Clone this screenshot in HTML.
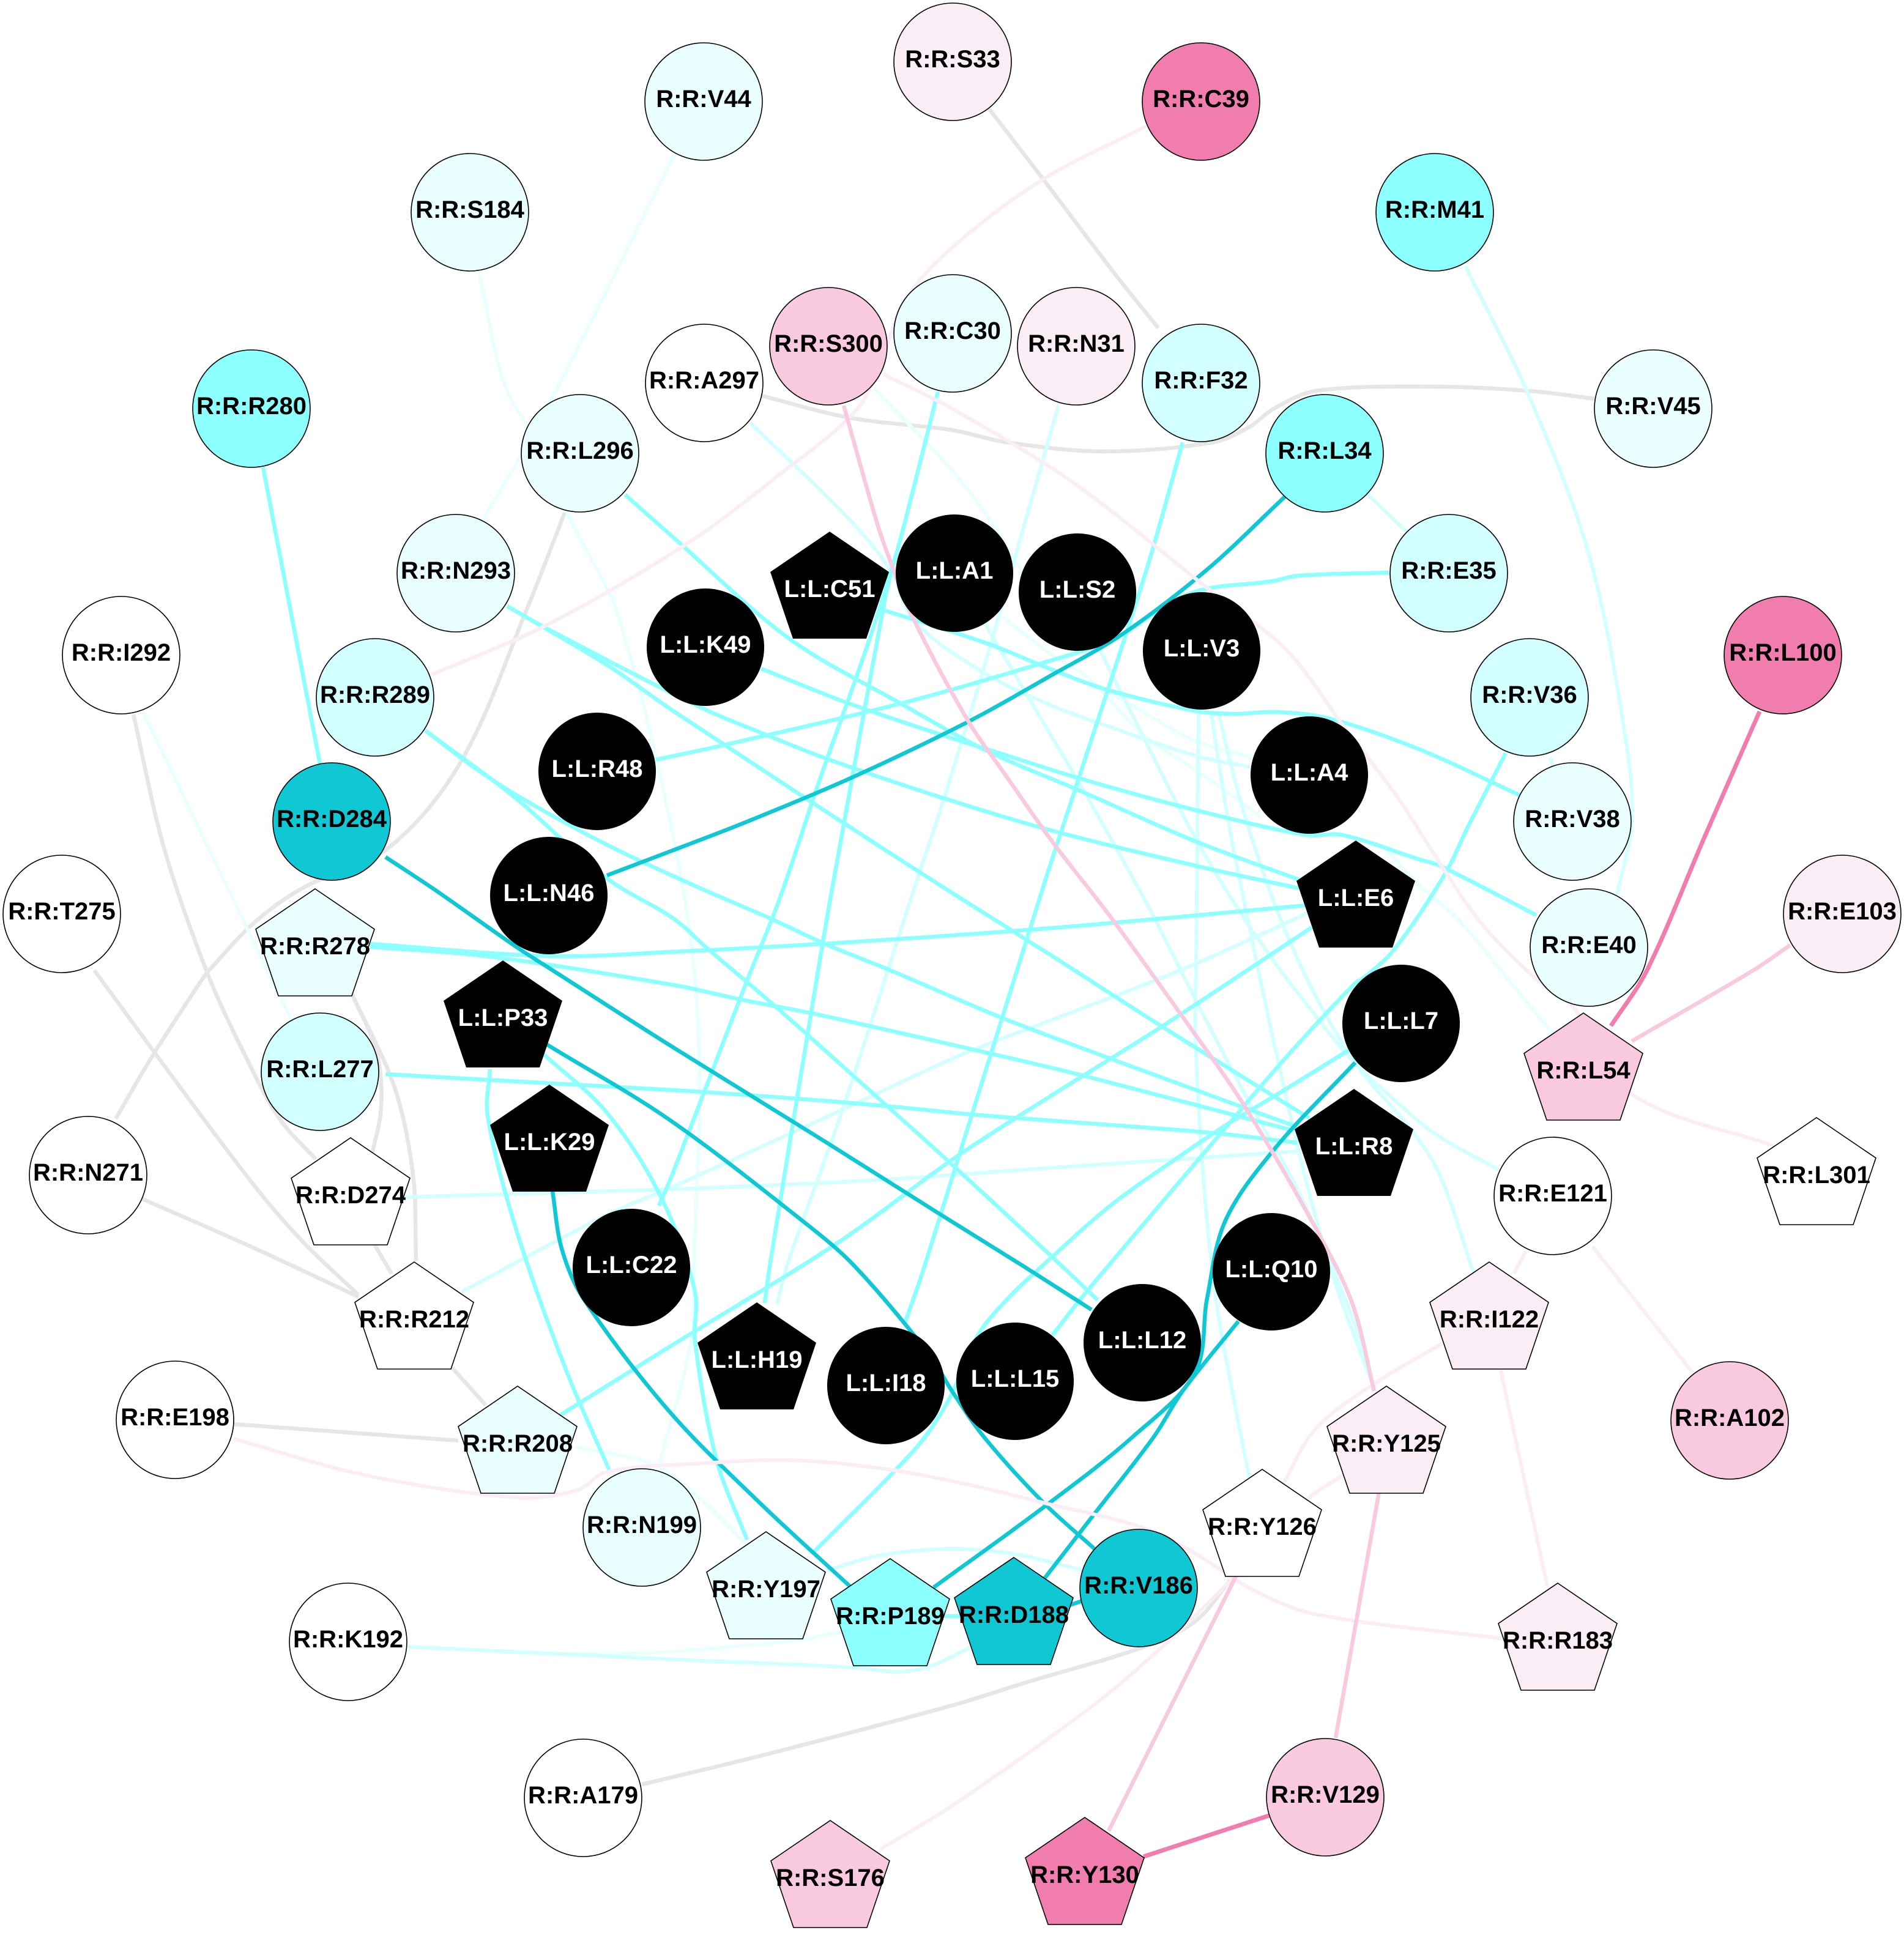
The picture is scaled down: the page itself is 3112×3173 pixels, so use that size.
<!DOCTYPE html>
<html>
<head>
<meta charset="utf-8">
<style>
html,body{margin:0;padding:0;background:#fff;width:3112px;height:3173px;overflow:hidden}
svg{display:block}
text{font-family:"Liberation Sans",Arial,sans-serif;font-weight:bold;font-size:40px;text-anchor:middle}
polyline,path{fill:none;stroke-linejoin:round;stroke-linecap:butt}
.n ellipse,.n polygon{stroke:#000;stroke-width:1.6}
</style>
</head>
<body>
<svg width="3112" height="3173" viewBox="0 0 3112 3173" xmlns="http://www.w3.org/2000/svg">
<rect width="3112" height="3173" fill="#fff"/>
<g stroke="#e6e6e6" stroke-width="6.5">
<polyline points="1616,177 1705,293 1824,450 1893,536"/>
<polyline points="1245,647 1389,683 1556,703 1645,723 1804,738 1983,723 2042,698 2082,668 2151,639 2340,632 2499,639 2608,652"/>
<polyline points="923,838 863,991 754,1244 635,1386 496,1451 417,1507 342,1586 327,1606 248,1728 189,1829"/>
<polyline points="218,1168 268,1386 337,1586 397,1718 457,1829 516,1895"/>
<polyline points="154,1586 258,1728 417,1940 496,2031 586,2117"/>
<polyline points="233,1960 417,2041 586,2120"/>
<polyline points="576,1626 645,1778 675,1920 680,2062"/>
<polyline points="576,1626 615,1718 623,1809 605,1900"/>
<polyline points="610,2031 640,2082"/>
<polyline points="739,2236 794,2297"/>
<polyline points="382,2328 749,2355"/>
<polyline points="1049,2917 1240,2871 1556,2788 1678,2750 1867,2693 1954,2650 2011,2583"/>
</g>
<g stroke="#e9ffff" stroke-width="6">
<polyline points="1102,253 883,688 789,850"/>
<polyline points="784,450 824,627 875,720 930,845 1012,1012 1116,1450 1143,1727 1134,2070 1130,2190 1077,2396"/>
<polyline points="233,1163 437,1586 476,1667"/>
<polyline points="1429,635 1556,769 1618,850 1690,960 1799,1065"/>
<polyline points="1638,1008 1720,1071 1779,1108 1870,1203 1953,1258 2064,1337"/>
<polyline points="2262,1383 2310,1438 2385,1505 2464,1600 2539,1691"/>
<polyline points="667,2692 992,2704 1293,2683 1374,2668"/>
<polyline points="941,2365 1072,2396 1151,2456 1226,2532"/>
<polyline points="1700,1085 1819,1136 1953,1211 2048,1239"/>
</g>
<g stroke="#d2ffff" stroke-width="6">
<polyline points="2395,435 2499,647 2598,910 2658,1214 2667,1345 2643,1462"/>
<polyline points="2236,809 2300,870"/>
<polyline points="1730,663 1665,890 1606,1099 1543,1305 1495,1450 1377,1814 1286,2070 1270,2132"/>
<polyline points="1226,691 1389,850 1456,933 1495,1016 1614,1103 1720,1154 1799,1183 1953,1235 2044,1254"/>
<polyline points="754,2112 992,1986 1100,1940 1377,1814 1574,1723 1720,1667 1927,1587 2139,1492"/>
<polyline points="660,1957 1100,1944 1416,1930 1720,1909 2120,1882"/>
<polyline points="1799,1065 1870,1207 1953,1369 2048,1523 2156,1668 2219,1743 2270,1790 2345,1853 2449,1912"/>
<polyline points="1991,1163 2025,1300 2076,1458 2140,1608 2219,1743 2306,1846 2353,1920 2409,2082"/>
<polyline points="1610,1020 1720,1206 1779,1306 1878,1484 1958,1642 2045,1808 2108,1920 2160,2030 2220,2180 2246,2270"/>
<polyline points="1979,1163 2008,1345 2041,1510 2080,1695 2132,1920 2180,2090 2246,2270"/>
<polyline points="1959,1163 1955,1570 1954,1698 1966,1915 1983,2092 2000,2200 2042,2416"/>
<polyline points="1351,2567 1437,2543 1552,2532 1655,2540 1770,2567"/>
<polyline points="667,2692 1150,2715 1322,2722 1408,2727 1471,2733 1523,2723 1586,2693"/>
<polyline points="2534,1239 2539,1254"/>
</g>
<g stroke="#8cffff" stroke-width="6.5">
<polyline points="430,764 523,1249"/>
<polyline points="1533,640 1480,850 1458,929 1416,1060 1340,1274 1274,1470 1219,1608 1100,1917 1077,1971"/>
<polyline points="1460,918 1444,992 1357,1470 1325,1660 1258,2070 1250,2130"/>
<polyline points="1933,723 1874,931 1759,1285 1705,1450 1511,2070 1479,2163"/>
<polyline points="1072,1242 1183,1218 1472,1150 1720,1079 1819,1045 1945,970 2080,950 2122,941 2270,936"/>
<polyline points="1440,996 1614,1052 1720,1095 1811,1128 1953,1162 2016,1167 2087,1164 2174,1175 2320,1225 2484,1300"/>
<polyline points="1244,1093 1385,1149 1535,1200 1630,1230 1763,1272 1953,1324 2135,1365 2194,1365 2320,1405 2353,1415 2511,1496"/>
<polyline points="1022,809 1100,878 1290,1044 1472,1150 1614,1228 1759,1290 1953,1375 2123,1438"/>
<polyline points="829,991 893,1027 1140,1154 1254,1202 1353,1241 1543,1305 1720,1358 1953,1415 2123,1452"/>
<polyline points="829,991 992,1087 1100,1162 1329,1313 1541,1450 1720,1563 1899,1678 2140,1828"/>
<polyline points="695,1194 774,1254 853,1305 992,1381 1140,1450 1258,1501 1353,1545 1450,1584 1638,1664 1816,1731 2026,1808 2120,1842"/>
<polyline points="695,1194 843,1305 992,1436 1100,1501 1159,1553 1266,1644 1452,1810 1553,1901 1720,2055 1794,2125"/>
<polyline points="605,1548 794,1563 1100,1610 1211,1634 1325,1656 1420,1677 1622,1723 1773,1759 2113,1848"/>
<polyline points="605,1543 900,1563 1100,1556 1345,1543 1720,1517 2135,1480"/>
<polyline points="630,1756 1100,1782 1302,1796 1448,1808 1590,1822 1720,1832 1982,1852 2120,1868"/>
<polyline points="913,2315 1092,2203 1370,2031 1563,1891 1720,1790 1899,1678 2144,1516"/>
<polyline points="2461,1231 2400,1350 2361,1430 2278,1553 2227,1600 2215,1607 2105,1725 2006,1840 1769,2120 1720,2183"/>
<polyline points="2204,1717 2081,1793 2006,1838 1927,1891 1816,1970 1717,2057 1650,2120 1600,2180 1553,2284 1511,2350 1460,2407 1330,2537"/>
<polyline points="801,1748 797,1824 844,2011 923,2234 997,2406"/>
<polyline points="888,1723 992,1819 1082,1960 1136,2112 1136,2193 1171,2386 1221,2517"/>
<polyline points="1540,2642 1570,2642"/>
</g>
<g stroke="#10c8d4" stroke-width="6.5">
<polyline points="2100,812 1973,931 1834,1037 1720,1103 1586,1178 1397,1269 1219,1344 1100,1390 992,1431"/>
<polyline points="630,1401 710,1454 844,1548 903,1586 1092,1707 1353,1869 1535,1984 1673,2070 1784,2141"/>
<polyline points="893,1707 1092,1829 1317,2000 1397,2070 1518,2213 1556,2274 1609,2350 1705,2456 1789,2532"/>
<polyline points="903,1947 918,2041 953,2122 1092,2305 1241,2456 1389,2593"/>
<polyline points="2215,1737 2085,1876 2003,1995 1973,2122 1953,2244 1850,2350 1707,2463 1526,2595"/>
<polyline points="2024,2160 1933,2274 1885,2350 1787,2477 1705,2583"/>
<polyline points="1745,2625 1775,2615"/>
</g>
<g stroke="#fbedf5" stroke-width="6">
<polyline points="1872,207 1705,293 1556,405 1480,490 1440,590 1400,670 1270,779 1121,890 893,1022 705,1103"/>
<polyline points="1444,612 1556,668 1754,789 1973,961 2102,1062 2201,1194 2282,1300 2361,1423 2424,1513 2515,1604 2570,1644 2663,1786 2901,1874"/>
<polyline points="2603,2038 2767,2244"/>
<polyline points="2494,2046 2474,2082"/>
<polyline points="2452,2236 2529,2593"/>
<polyline points="2358,2196 2251,2259 2151,2335 2097,2426"/>
<polyline points="2196,2411 2137,2451 2012,2583 1903,2689 1784,2790 1556,2952 1439,3023"/>
<polyline points="382,2352 595,2411 844,2448 943,2436 992,2406 1150,2392 1293,2387 1437,2400 1556,2421 1707,2457 1867,2497 1954,2540 2050,2600 2151,2639 2459,2679"/>
</g>
<g stroke="#f9c9df" stroke-width="6.5">
<polyline points="1379,663 1432,850 1458,925 1495,1016 1582,1178 1642,1265 1720,1376 1816,1500 1927,1654 2034,1808 2156,2018 2211,2133 2246,2274"/>
<polyline points="2667,1702 2866,1586 2926,1545"/>
<polyline points="2254,2439 2183,2841"/>
<polyline points="2022,2573 1812,2993"/>
</g>
<g stroke="#f17daf" stroke-width="7">
<polyline points="2876,1163 2787,1366 2692,1586 2633,1677"/>
<polyline points="1869,3035 2074,2968"/>
</g>

<g class="n">
<ellipse cx="1150" cy="166" rx="96" ry="96" fill="#e9ffff"/><text x="1150" y="175">R:R:V44</text>
<ellipse cx="768" cy="347" rx="96" ry="96" fill="#e9ffff"/><text x="768" y="356">R:R:S184</text>
<ellipse cx="411" cy="668" rx="96" ry="96" fill="#8cffff"/><text x="411" y="677">R:R:R280</text>
<ellipse cx="948" cy="741" rx="96" ry="96" fill="#e9ffff"/><text x="948" y="750">R:R:L296</text>
<ellipse cx="1151" cy="626" rx="96" ry="96" fill="#ffffff"/><text x="1151" y="635">R:R:A297</text>
<ellipse cx="1354" cy="566" rx="96" ry="96" fill="#f9c9df"/><text x="1354" y="575">R:R:S300</text>
<ellipse cx="745" cy="937" rx="96" ry="96" fill="#e9ffff"/><text x="745" y="946">R:R:N293</text>
<ellipse cx="198" cy="1071" rx="96" ry="96" fill="#ffffff"/><text x="198" y="1080">R:R:I292</text>
<ellipse cx="613" cy="1140" rx="96" ry="96" fill="#d2ffff"/><text x="613" y="1149">R:R:R289</text>
<ellipse cx="542" cy="1343" rx="96" ry="96" fill="#10c8d4"/><text x="542" y="1352">R:R:D284</text>
<ellipse cx="101" cy="1494" rx="96" ry="96" fill="#ffffff"/><text x="101" y="1503">R:R:T275</text>
<ellipse cx="1557" cy="545" rx="96" ry="96" fill="#e9ffff"/><text x="1557" y="554">R:R:C30</text>
<ellipse cx="1557" cy="101" rx="96" ry="96" fill="#fbedf5"/><text x="1557" y="110">R:R:S33</text>
<ellipse cx="1963" cy="166" rx="96" ry="96" fill="#f17daf"/><text x="1963" y="175">R:R:C39</text>
<ellipse cx="2345" cy="347" rx="96" ry="96" fill="#8cffff"/><text x="2345" y="356">R:R:M41</text>
<ellipse cx="1759" cy="566" rx="96" ry="96" fill="#fbedf5"/><text x="1759" y="575">R:R:N31</text>
<ellipse cx="1963" cy="626" rx="96" ry="96" fill="#d2ffff"/><text x="1963" y="635">R:R:F32</text>
<ellipse cx="2702" cy="668" rx="96" ry="96" fill="#e9ffff"/><text x="2702" y="677">R:R:V45</text>
<ellipse cx="2165" cy="741" rx="96" ry="96" fill="#8cffff"/><text x="2165" y="750">R:R:L34</text>
<ellipse cx="2368" cy="937" rx="96" ry="96" fill="#d2ffff"/><text x="2368" y="946">R:R:E35</text>
<ellipse cx="2500" cy="1140" rx="96" ry="96" fill="#d2ffff"/><text x="2500" y="1149">R:R:V36</text>
<ellipse cx="2914" cy="1071" rx="96" ry="96" fill="#f17daf"/><text x="2914" y="1080">R:R:L100</text>
<ellipse cx="2570" cy="1343" rx="96" ry="96" fill="#e9ffff"/><text x="2570" y="1352">R:R:V38</text>
<ellipse cx="2597" cy="1549" rx="96" ry="96" fill="#e9ffff"/><text x="2597" y="1558">R:R:E40</text>
<ellipse cx="3011" cy="1494" rx="96" ry="96" fill="#fbedf5"/><text x="3011" y="1503">R:R:E103</text>
<ellipse cx="523" cy="1752" rx="96" ry="96" fill="#d2ffff"/><text x="523" y="1761">R:R:L277</text>
<ellipse cx="144" cy="1921" rx="96" ry="96" fill="#ffffff"/><text x="144" y="1930">R:R:N271</text>
<ellipse cx="286" cy="2321" rx="96" ry="96" fill="#ffffff"/><text x="286" y="2330">R:R:E198</text>
<ellipse cx="1049" cy="2497" rx="96" ry="96" fill="#e9ffff"/><text x="1049" y="2506">R:R:N199</text>
<ellipse cx="569" cy="2684" rx="96" ry="96" fill="#ffffff"/><text x="569" y="2693">R:R:K192</text>
<ellipse cx="953" cy="2939" rx="96" ry="96" fill="#ffffff"/><text x="953" y="2948">R:R:A179</text>
<ellipse cx="2538" cy="1955" rx="96" ry="96" fill="#ffffff"/><text x="2538" y="1964">R:R:E121</text>
<ellipse cx="2827" cy="2322" rx="96" ry="96" fill="#f9c9df"/><text x="2827" y="2331">R:R:A102</text>
<ellipse cx="1861" cy="2596" rx="96" ry="96" fill="#10c8d4"/><text x="1861" y="2605">R:R:V186</text>
<ellipse cx="2166" cy="2938" rx="96" ry="96" fill="#f9c9df"/><text x="2166" y="2947">R:R:V129</text>

<polygon transform="translate(515,1453)" points="0,0 97,66 60,175 -60,175 -97,66" fill="#e9ffff"/><text x="515" y="1560">R:R:R278</text>
<polygon transform="translate(573,1860)" points="0,0 97,66 60,175 -60,175 -97,66" fill="#ffffff"/><text x="573" y="1967">R:R:D274</text>
<polygon transform="translate(677,2063)" points="0,0 97,66 60,175 -60,175 -97,66" fill="#ffffff"/><text x="677" y="2170">R:R:R212</text>
<polygon transform="translate(846,2266)" points="0,0 97,66 60,175 -60,175 -97,66" fill="#e9ffff"/><text x="846" y="2373">R:R:R208</text>
<polygon transform="translate(1252,2504)" points="0,0 97,66 60,175 -60,175 -97,66" fill="#e9ffff"/><text x="1252" y="2611">R:R:Y197</text>
<polygon transform="translate(1455,2548)" points="0,0 97,66 60,175 -60,175 -97,66" fill="#8cffff"/><text x="1455" y="2655">R:R:P189</text>
<polygon transform="translate(1357,2976)" points="0,0 97,66 60,175 -60,175 -97,66" fill="#f9c9df"/><text x="1357" y="3083">R:R:S176</text>
<polygon transform="translate(2588,1656)" points="0,0 97,66 60,175 -60,175 -97,66" fill="#f9c9df"/><text x="2588" y="1763">R:R:L54</text>
<polygon transform="translate(2969,1827)" points="0,0 97,66 60,175 -60,175 -97,66" fill="#ffffff"/><text x="2969" y="1934">R:R:L301</text>
<polygon transform="translate(2434,2063)" points="0,0 97,66 60,175 -60,175 -97,66" fill="#fbedf5"/><text x="2434" y="2170">R:R:I122</text>
<polygon transform="translate(2266,2266)" points="0,0 97,66 60,175 -60,175 -97,66" fill="#fbedf5"/><text x="2266" y="2373">R:R:Y125</text>
<polygon transform="translate(2063,2402)" points="0,0 97,66 60,175 -60,175 -97,66" fill="#ffffff"/><text x="2063" y="2509">R:R:Y126</text>
<polygon transform="translate(1657,2546)" points="0,0 97,66 60,175 -60,175 -97,66" fill="#10c8d4"/><text x="1657" y="2653">R:R:D188</text>
<polygon transform="translate(2546,2588)" points="0,0 97,66 60,175 -60,175 -97,66" fill="#fbedf5"/><text x="2546" y="2695">R:R:R183</text>
<polygon transform="translate(1773,2971)" points="0,0 97,66 60,175 -60,175 -97,66" fill="#f17daf"/><text x="1773" y="3078">R:R:Y130</text>
</g>

<g fill="#000">
<circle cx="1153" cy="1058" r="96"/>
<circle cx="976" cy="1261" r="96"/>
<circle cx="897" cy="1464" r="96"/>
<circle cx="1560" cy="937" r="96"/>
<circle cx="1761" cy="968" r="96"/>
<circle cx="1964" cy="1064" r="96"/>
<circle cx="2140" cy="1267" r="96"/>
<circle cx="1032" cy="2072" r="96"/>
<circle cx="1448" cy="2265" r="96"/>
<circle cx="2290" cy="1673" r="96"/>
<circle cx="2078" cy="2079" r="96"/>
<circle cx="1867" cy="2195" r="96"/>
<circle cx="1659" cy="2258" r="96"/>
<polygon transform="translate(1356,869)" points="0,0 97,66 60,175 -60,175 -97,66"/>
<polygon transform="translate(2216,1374)" points="0,0 97,66 60,175 -60,175 -97,66"/>
<polygon transform="translate(822,1570)" points="0,0 97,66 60,175 -60,175 -97,66"/>
<polygon transform="translate(898,1773)" points="0,0 97,66 60,175 -60,175 -97,66"/>
<polygon transform="translate(1237,2129)" points="0,0 97,66 60,175 -60,175 -97,66"/>
<polygon transform="translate(2213,1780)" points="0,0 97,66 60,175 -60,175 -97,66"/>
</g>
<g fill="#fff">
<text x="1153" y="1067">L:L:K49</text>
<text x="976" y="1270">L:L:R48</text>
<text x="897" y="1473">L:L:N46</text>
<text x="1560" y="946">L:L:A1</text>
<text x="1761" y="977">L:L:S2</text>
<text x="1964" y="1073">L:L:V3</text>
<text x="2140" y="1276">L:L:A4</text>
<text x="1032" y="2081">L:L:C22</text>
<text x="1448" y="2274">L:L:I18</text>
<text x="2290" y="1682">L:L:L7</text>
<text x="2078" y="2088">L:L:Q10</text>
<text x="1867" y="2204">L:L:L12</text>
<text x="1659" y="2267">L:L:L15</text>
<text x="1356" y="976">L:L:C51</text>
<text x="2216" y="1481">L:L:E6</text>
<text x="822" y="1677">L:L:P33</text>
<text x="898" y="1880">L:L:K29</text>
<text x="1237" y="2236">L:L:H19</text>
<text x="2213" y="1887">L:L:R8</text>
</g>
</svg>
<script>
document.querySelectorAll('polyline').forEach(function(pl){
  var a=pl.getAttribute('points').trim().split(/\s+/).map(function(s){return s.split(',').map(Number)});
  if(a.length<3)return;
  function unit(p,q){var x=q[0]-p[0],y=q[1]-p[1],l=Math.hypot(x,y)||1;return [x/l,y/l]}
  var t=a.map(function(p,i){return unit(a[Math.max(i-1,0)],a[Math.min(i+1,a.length-1)])});
  var d='M'+a[0][0]+' '+a[0][1];
  for(var i=0;i<a.length-1;i++){
    var p=a[i],q=a[i+1],l=Math.hypot(q[0]-p[0],q[1]-p[1])/3;
    d+=' C'+(p[0]+t[i][0]*l).toFixed(1)+' '+(p[1]+t[i][1]*l).toFixed(1)+' '+(q[0]-t[i+1][0]*l).toFixed(1)+' '+(q[1]-t[i+1][1]*l).toFixed(1)+' '+q[0]+' '+q[1];
  }
  var path=document.createElementNS('http://www.w3.org/2000/svg','path');
  path.setAttribute('d',d);
  pl.parentNode.replaceChild(path,pl);
});
</script>
</body>
</html>
